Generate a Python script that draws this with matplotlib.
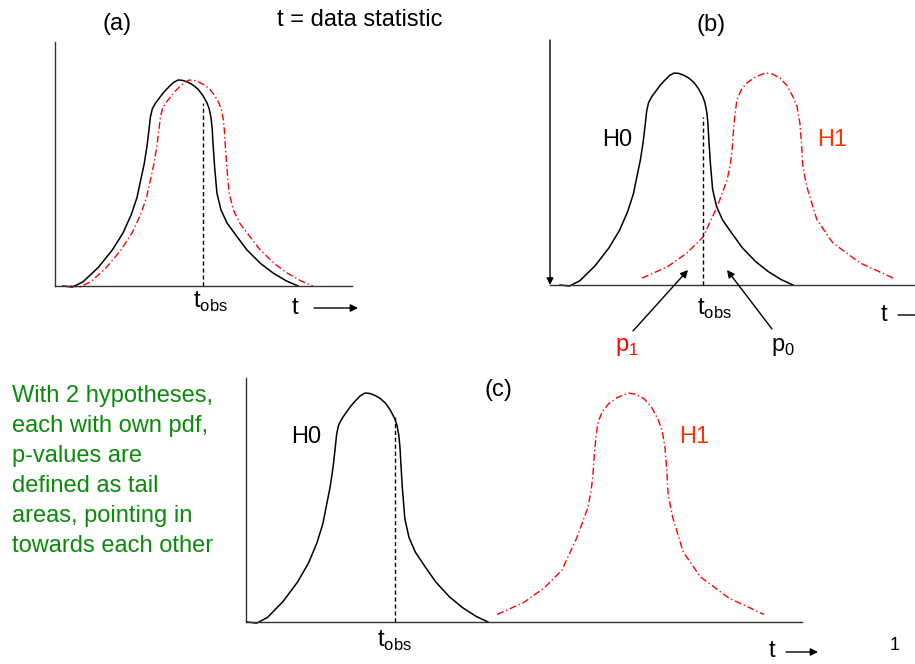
import matplotlib.pyplot as plt
import matplotlib.patches as mpatches
import numpy as np

plt.rcParams['font.family'] = ['Liberation Sans', 'DejaVu Sans']
plt.rcParams['mathtext.fontset'] = 'custom'
plt.rcParams['mathtext.rm'] = 'Liberation Sans'

# hand drawn pdf shape, u = fraction of width, v = fraction of peak
shape_u = [0.0, 0.04, 0.085, 0.15, 0.21, 0.255, 0.29, 0.315, 0.328, 0.345, 0.357, 0.365,
           0.372, 0.38, 0.395, 0.413, 0.43, 0.45, 0.47, 0.49, 0.51, 0.53, 0.553, 0.575,
           0.595, 0.613, 0.622, 0.63, 0.635, 0.638, 0.645, 0.655, 0.672, 0.698, 0.74,
           0.783, 0.84, 0.894, 0.95, 1.0]
shape_v = [0.0, -0.005, 0.02, 0.09, 0.175, 0.257, 0.345, 0.43, 0.5, 0.59, 0.675, 0.75,
           0.82, 0.86, 0.89, 0.917, 0.942, 0.966, 0.988, 1.0, 0.998, 0.99, 0.976, 0.955,
           0.925, 0.888, 0.86, 0.815, 0.76, 0.70, 0.58, 0.451, 0.37, 0.306, 0.24,
           0.175, 0.11, 0.063, 0.025, 0.0]

# H1 shape as drawn in panels b and c (tails stop above the axis)
h1_u = [0.0, 0.1, 0.179, 0.243, 0.299, 0.339, 0.352, 0.359, 0.363, 0.37, 0.378, 0.395,
        0.418, 0.45, 0.49, 0.52, 0.55, 0.578, 0.602, 0.618, 0.629, 0.636, 0.641, 0.657,
        0.697, 0.761, 0.869, 1.0]
h1_v = [0.033, 0.085, 0.151, 0.226, 0.368, 0.495, 0.57, 0.637, 0.71, 0.8, 0.873, 0.92,
        0.953, 0.98, 1.0, 0.995, 0.976, 0.94, 0.887, 0.84, 0.764, 0.66, 0.557, 0.462,
        0.307, 0.198, 0.104, 0.033]

# placement of each curve inside its panel: (shape, start, width, peak height)
curves_a = {'H0': ('pdf', 8, 235, 206), 'H1': ('pdf', 15, 243, 206)}
curves_b = {'H0': ('pdf', 10, 233, 212), 'H1': ('h1', 92, 251, 212)}
curves_c = {'H0': ('pdf', 1, 241, 229), 'H1': ('h1', 251, 267, 229)}

# t_obs position and height of dashed line per panel
tobs = {'a': (148, 183), 'b': (153, 168), 'c': (149, 205)}

green_text = ["With 2 hypotheses,", "each with own pdf,", "p-values are",
              "defined as tail", "areas, pointing in", "towards each other"]

W, H = 915, 664
fig = plt.figure(figsize=(W / 100, H / 100), dpi=100)


def fx(x):
    return x / W


def fy(y):
    return 1 - y / H


def panel(x0, ybase, w, h):
    ax = fig.add_axes([fx(x0), fy(ybase), w / W, h / H])
    ax.set_xlim(0, w)
    ax.set_ylim(0, h)
    for s in ['top', 'right']:
        ax.spines[s].set_visible(False)
    for s in ['left', 'bottom']:
        ax.spines[s].set_linewidth(1.0)
        ax.spines[s].set_color('#333333')
    ax.set_xticks([])
    ax.set_yticks([])
    ax.patch.set_alpha(0)
    return ax


def draw(ax, curves):
    shapes = {'pdf': (np.array(shape_u), np.array(shape_v)),
              'h1': (np.array(h1_u), np.array(h1_v))}
    for name, (key, x0, w, h) in curves.items():
        u, v = shapes[key]
        if name == 'H0':
            ax.plot(x0 + w * u, h * v, color='black', lw=1.1, clip_on=False,
                    solid_joinstyle='round')
        else:
            ax.plot(x0 + w * u, h * v, color='red', lw=1.0, ls=(0, (5, 2, 1, 2)),
                    clip_on=False)


def tline(ax, key):
    x, top = tobs[key]
    ax.plot([x, x], [0, top], color='black', lw=1.0, ls=(0, (3, 2)))


ax_a = panel(55, 286, 297, 244)
draw(ax_a, curves_a)
tline(ax_a, 'a')

ax_b = panel(550, 285, 365, 245)
ax_b.spines['left'].set_visible(False)
ax_b.annotate('', xy=(0, 0), xytext=(0, 245), annotation_clip=False,
              arrowprops=dict(arrowstyle='-|>', color='black', lw=1.0, mutation_scale=10,
                              shrinkA=0, shrinkB=0))
draw(ax_b, curves_b)
tline(ax_b, 'b')

ax_c = panel(246, 622, 556, 244)
draw(ax_c, curves_c)
tline(ax_c, 'c')

fs = 17
tsub = r't$_{\mathrm{obs}}$'

fig.text(fx(117), fy(24), '(a)', fontsize=fs, ha='center', va='center')
fig.text(fx(360), fy(20), 't = data statistic', fontsize=fs, ha='center', va='center')
fig.text(fx(711), fy(25), '(b)', fontsize=fs, ha='center', va='center')
fig.text(fx(498), fy(390), '(c)', fontsize=fs, ha='center', va='center')

# panel a labels
fig.text(fx(210), fy(302), tsub, fontsize=fs, ha='center', va='center')
fig.text(fx(295), fy(308), 't', fontsize=fs, ha='center', va='center')

# panel b labels
fig.text(fx(617), fy(140), 'H0', fontsize=fs, ha='center', va='center')
fig.text(fx(832), fy(140), 'H1', fontsize=fs, ha='center', va='center', color='#ff3300')
fig.text(fx(714), fy(309), tsub, fontsize=fs, ha='center', va='center')
fig.text(fx(884), fy(315), 't', fontsize=fs, ha='center', va='center')
fig.text(fx(627), fy(347), r'p$_{1}$', fontsize=fs, ha='center', va='center', color='red')
fig.text(fx(783), fy(347), r'p$_{0}$', fontsize=fs, ha='center', va='center')

# panel c labels
fig.text(fx(306), fy(437), 'H0', fontsize=fs, ha='center', va='center')
fig.text(fx(694), fy(437), 'H1', fontsize=fs, ha='center', va='center', color='#ff3300')
fig.text(fx(394), fy(641), tsub, fontsize=fs, ha='center', va='center')
fig.text(fx(772), fy(651), 't', fontsize=fs, ha='center', va='center')
fig.text(fx(895), fy(645), '1', fontsize=13, ha='center', va='center')

# t arrows and p-value pointers
arrows = [((314, 308), (358, 308)), ((898, 315), (935, 315)), ((786, 652), (818, 652)),
          ((633, 331), (688, 270)), ((772, 329), (727, 270))]
for (x1, y1), (x2, y2) in arrows:
    fig.add_artist(mpatches.FancyArrowPatch(
        (fx(x1), fy(y1)), (fx(x2), fy(y2)), transform=fig.transFigure,
        arrowstyle='-|>', mutation_scale=11, color='black', lw=1.0,
        shrinkA=0, shrinkB=0))

fig.text(fx(12), fy(385), '\n'.join(green_text), fontsize=fs, ha='left', va='top',
         color='#0a8a0a', linespacing=1.47)

fig.savefig('out.png', dpi=100)
